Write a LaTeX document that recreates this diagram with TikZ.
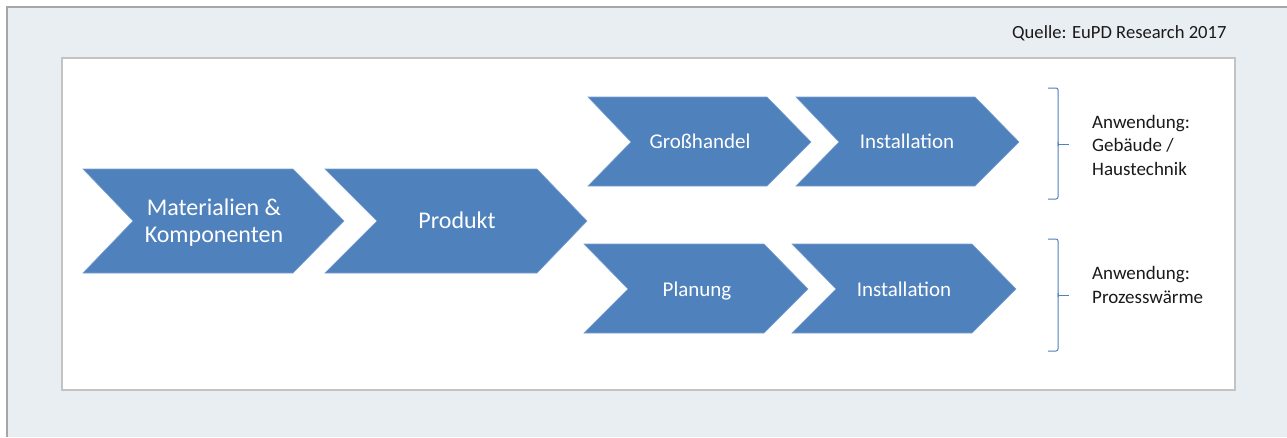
\documentclass[tikz,border=0pt]{standalone}
\usepackage{fontspec}
\setmainfont{Carlito}
\definecolor{panel}{HTML}{E9EEF3}
\definecolor{frame}{HTML}{A6A6A6}
\definecolor{innerframe}{HTML}{C3C3C3}
\definecolor{chevblue}{HTML}{4F81BD}
\definecolor{chevedge}{HTML}{7AA0CF}
\definecolor{ink}{HTML}{1A1A1A}
\tikzset{
  chevron/.style={fill=chevblue, draw=chevedge, line width=0.6pt, line join=miter},
  bigtext/.style={text=white, align=center, anchor=base, font=\fontsize{24}{27}\selectfont, inner sep=0pt},
  smalltext/.style={text=white, align=center, anchor=base, font=\fontsize{21}{25}\selectfont, inner sep=0pt},
  labeltext/.style={text=ink, align=left, anchor=base west, font=\fontsize{19}{23.5}\selectfont, inner sep=0pt},
  bracket/.style={draw=chevblue, line width=1pt, rounded corners=2pt},
}
\begin{document}
\begin{tikzpicture}[x=1pt,y=-1pt]
\useasboundingbox (0,0) rectangle (1287,437);
% outer panel
\fill[panel] (7,7) rectangle (1287,437);
\draw[frame, line width=1.5pt] (7,437) -- (7,7) -- (1287,7);
% source
\node[text=ink, anchor=base west, font=\fontsize{18.6}{22}\selectfont, inner sep=0pt] (src) at (1012,38) {Quelle: EuPD Research 2017};
% inner white panel
\draw[innerframe, fill=white, line width=1.5pt] (62,58) rectangle (1235,390);
% chevrons
\draw[chevron] (83,169) -- (293,169) -- (344,221) -- (293,273) -- (83,273) -- (133,221) -- cycle;
\draw[chevron] (325,169) -- (537,169) -- (587,221) -- (537,273) -- (325,273) -- (377,221) -- cycle;
\draw[chevron] (588,97) -- (767,97) -- (811,142) -- (767,186) -- (588,186) -- (631,142) -- cycle;
\draw[chevron] (796,97) -- (975,97) -- (1019,142) -- (975,186) -- (796,186) -- (839,142) -- cycle;
\draw[chevron] (584,244) -- (764,244) -- (808,289) -- (764,333) -- (584,333) -- (628,289) -- cycle;
\draw[chevron] (792,244) -- (972,244) -- (1016,289) -- (972,333) -- (792,333) -- (836,289) -- cycle;
% chevron texts
\node[bigtext] (mat) at (214,242) {Materialien \&\\Komponenten};
\node[bigtext] (prod) at (457,228) {Produkt};
\node[smalltext] (gross) at (700,148) {Großhandel};
\node[smalltext] (inst1) at (907,148) {Installation};
\node[smalltext] (plan) at (697,296) {Planung};
\node[smalltext] (inst2) at (904,296) {Installation};
% brackets
\coordinate (b1t) at (1048,88);
\coordinate (b1m) at (1069,144);
\coordinate (b1b) at (1048,199);
\draw[bracket] (b1t) -- (1058,88) -- (1058,146);
\draw[bracket] (1058,144) -- (b1m);
\draw[bracket] (1058,142) -- (1058,199) -- (b1b);
\coordinate (b2t) at (1048,239);
\coordinate (b2m) at (1069,295);
\coordinate (b2b) at (1048,351);
\draw[bracket] (b2t) -- (1058,239) -- (1058,297);
\draw[bracket] (1058,295) -- (b2m);
\draw[bracket] (1058,293) -- (1058,351) -- (b2b);
% labels
\node[labeltext] (app1) at (1092,175) {Anwendung:\\Gebäude /\\Haustechnik};
\node[labeltext] (app2) at (1092,303) {Anwendung:\\Prozesswärme};
\end{tikzpicture}
\end{document}
